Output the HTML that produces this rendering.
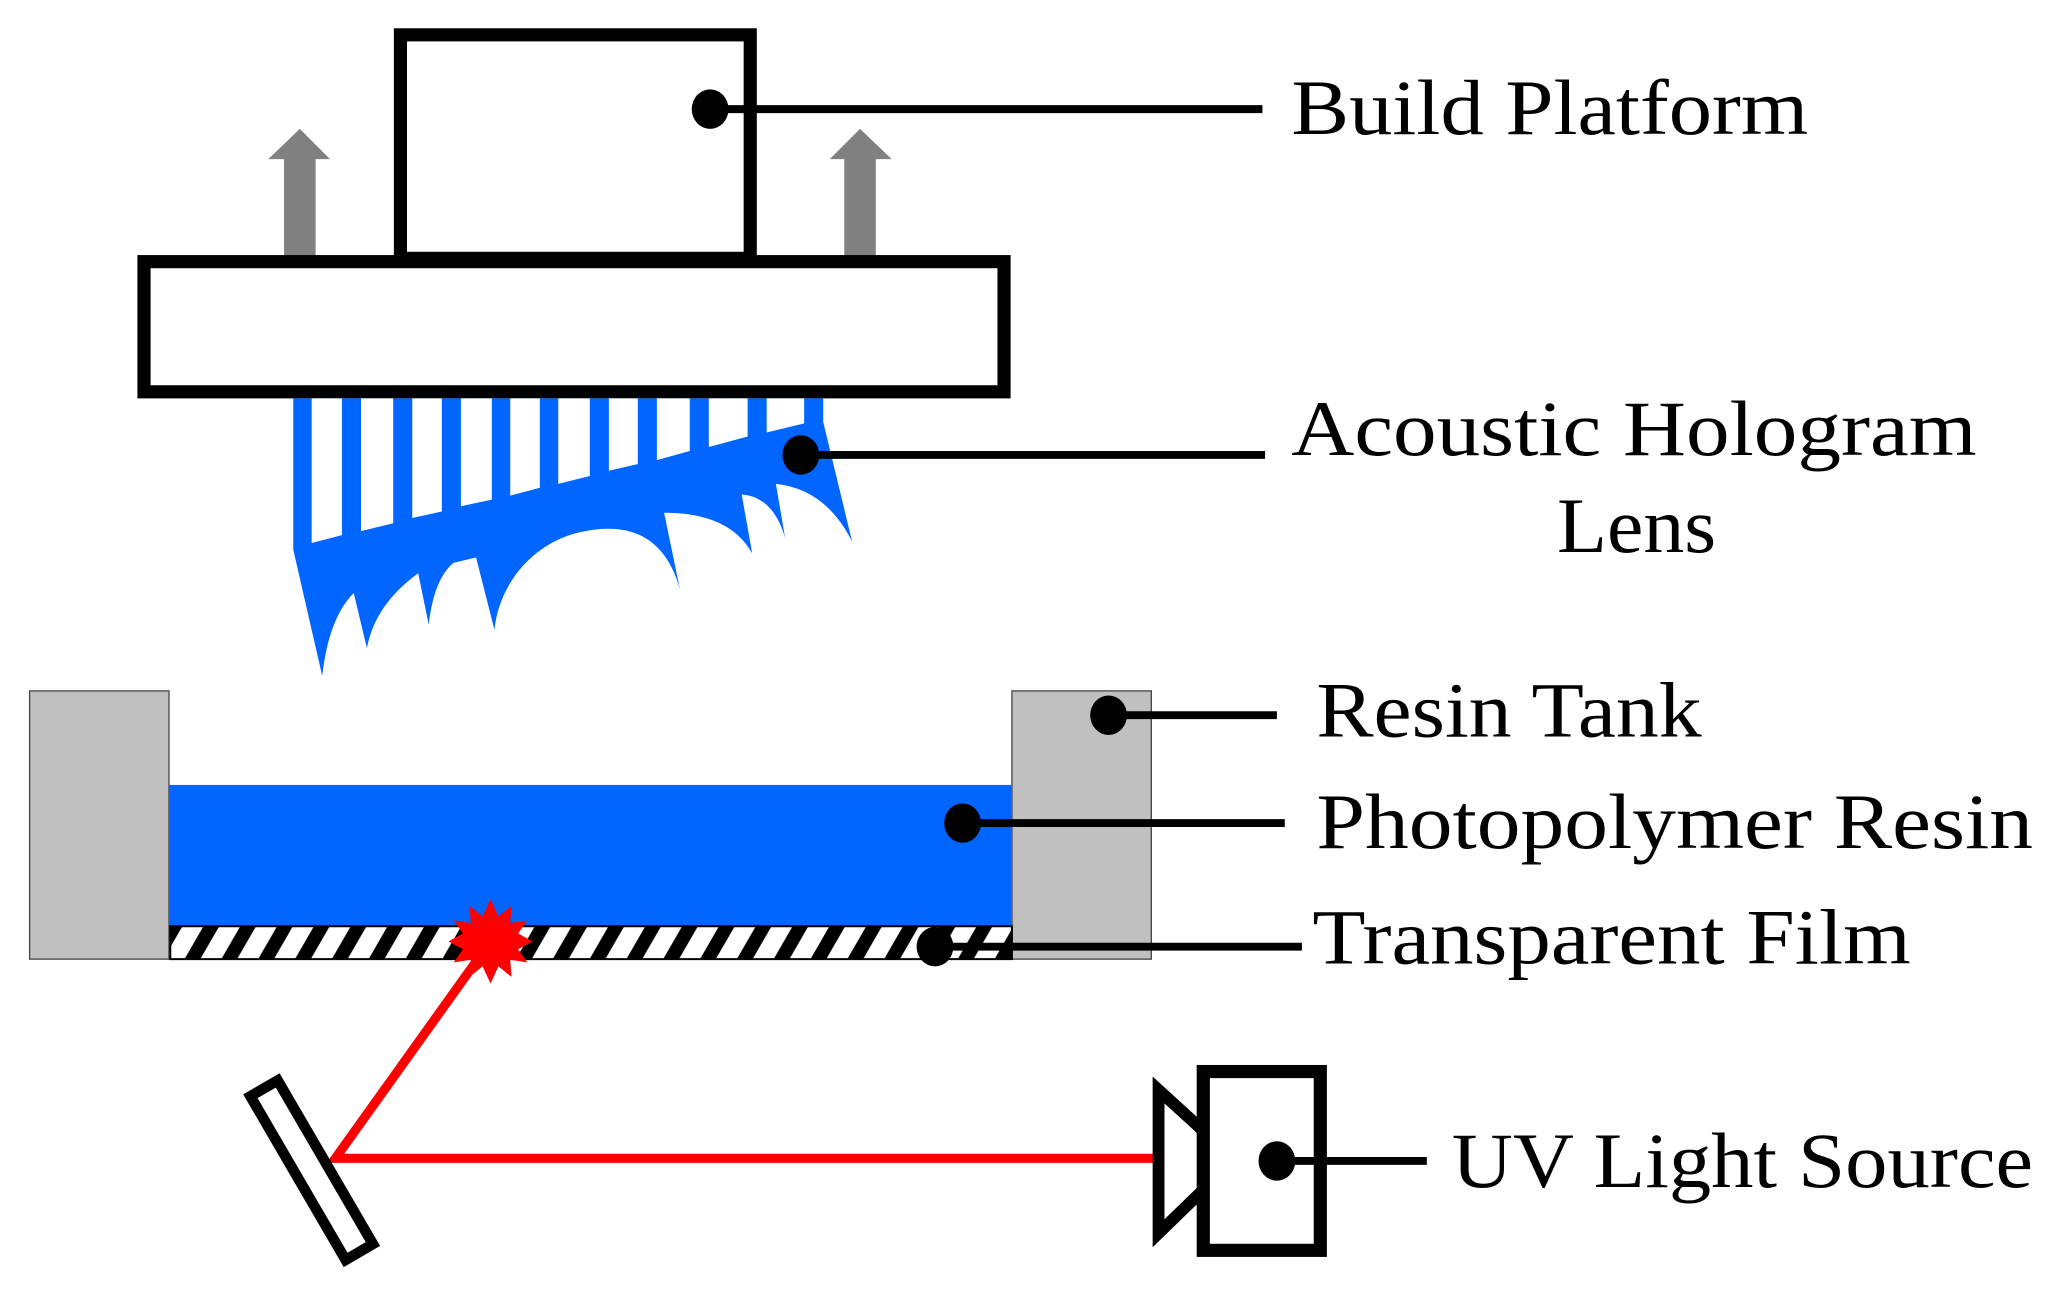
<!DOCTYPE html>
<html><head><meta charset="utf-8"><style>
html,body{margin:0;padding:0;background:#fff;}
svg{display:block;}
text{font-family:"Liberation Serif",serif;fill:#000;}
</style></head><body>
<svg width="2062" height="1299" viewBox="0 0 1568 988" preserveAspectRatio="none" xmlns="http://www.w3.org/2000/svg">
<defs>
<pattern id="hatch" patternUnits="userSpaceOnUse" width="28" height="26" x="0" y="704">
<rect width="28" height="26" fill="#fff"/>
<polygon points="0,26 12,26 27,0 15,0" fill="#000"/>
<polygon points="28,26 40,26 55,0 43,0" fill="#000"/>
<polygon points="-28,26 -16,26 -1,0 -13,0" fill="#000"/>
</pattern>
</defs>
<!-- gray arrows -->
<rect x="216" y="120" width="24" height="75" fill="#808080"/>
<polygon points="204,121 228,98 251,121" fill="#808080"/>
<rect x="642" y="120" width="24" height="75" fill="#808080"/>
<polygon points="631,121 654,98 678,121" fill="#808080"/>
<!-- build platform -->
<rect x="304.5" y="26.5" width="266" height="170" fill="#fff" stroke="#000" stroke-width="10"/>
<rect x="109.5" y="199" width="654" height="99" fill="#fff" stroke="#000" stroke-width="10"/>
<!-- lens -->
<path d="M223,303 L626,303 L626,321 L648,412 Q628,372 590,368 L597,409 Q588,378 564,376 L572,421 Q555,390 505,390 L517,448 C505,405 475,398 445,404 C410,410 380,440 376,479 L362,424 L345,428 Q330,440 326,475 L318,436 Q285,460 279,493 L269,451 Q250,470 245,514 L223,418 Z" fill="#0066ff"/>
<g fill="#fff">
<polygon points="237,303 260,303 260,407 237,413"/>
<polygon points="274.5,303 299,303 299,398 274.5,404"/>
<polygon points="313.5,303 336,303 336,389 313.5,394"/>
<polygon points="350.5,303 374,303 374,380 350.5,385"/>
<polygon points="388,303 410.5,303 410.5,371 388,377"/>
<polygon points="424.5,303 448.5,303 448.5,362 424.5,368"/>
<polygon points="463,303 485,303 485,353 463,358"/>
<polygon points="499.5,303 524.5,303 524.5,343 499.5,350"/>
<polygon points="539,303 568.5,303 568.5,332 539,340"/>
<polygon points="583,303 611.5,303 611.5,322 583,329"/>
</g>
<!-- leader lines top -->
<line x1="540" y1="83" x2="960" y2="83" stroke="#000" stroke-width="6"/>
<ellipse cx="540" cy="83" rx="14" ry="15" fill="#000"/>
<line x1="609" y1="346" x2="962" y2="346" stroke="#000" stroke-width="6"/>
<ellipse cx="609" cy="346" rx="14" ry="15" fill="#000"/>
<!-- tank -->
<rect x="22.5" y="525.5" width="106" height="204" fill="#c0c0c0" stroke="#444" stroke-width="1"/>
<rect x="769.5" y="525.5" width="106" height="204" fill="#c0c0c0" stroke="#444" stroke-width="1"/>
<rect x="129" y="597" width="640" height="107" fill="#0066ff"/>
<rect x="129" y="704" width="640" height="26" fill="url(#hatch)"/>
<rect x="129.5" y="704.5" width="640" height="25" fill="none" stroke="#000" stroke-width="1.5"/>
<!-- red beam -->
<polyline points="373,716 255,881 879,881" fill="none" stroke="#ff0000" stroke-width="7"/>
<polygon fill="#ff0000" points="373,684 379,697 389,689 388,702 401,700 394,710 405,716 394,722 401,732 388,730 389,743 379,735 373,748 367,735 357,743 358,730 345,732 352,722 341,716 352,710 345,700 358,702 357,689 367,697"/>
<!-- mirror -->
<g transform="translate(237,890) rotate(59.8)">
<rect x="-72" y="-12" width="144" height="24" fill="#fff" stroke="#000" stroke-width="8"/>
</g>
<!-- UV source -->
<rect x="915" y="815" width="89" height="136" fill="#fff" stroke="#000" stroke-width="10"/>
<polyline points="915,860 881,829 881,938 915,905" fill="none" stroke="#000" stroke-width="9" stroke-linejoin="miter"/>
<line x1="971" y1="883" x2="1085" y2="883" stroke="#000" stroke-width="6"/>
<ellipse cx="971" cy="883" rx="14" ry="15" fill="#000"/>
<!-- tank leaders -->
<line x1="843" y1="544" x2="971" y2="544" stroke="#000" stroke-width="6"/>
<ellipse cx="843" cy="544" rx="14" ry="15" fill="#000"/>
<line x1="732" y1="626" x2="977" y2="626" stroke="#000" stroke-width="6"/>
<ellipse cx="732" cy="626" rx="14" ry="15" fill="#000"/>
<line x1="711" y1="720" x2="990" y2="720" stroke="#000" stroke-width="6"/>
<ellipse cx="711" cy="720" rx="14" ry="15" fill="#000"/>
<!-- labels -->
<text x="982" y="102" font-size="60" textLength="393" lengthAdjust="spacingAndGlyphs">Build Platform</text>
<text x="982" y="346" font-size="60" textLength="521" lengthAdjust="spacingAndGlyphs">Acoustic Hologram</text>
<text x="1184" y="420" font-size="60" textLength="121" lengthAdjust="spacingAndGlyphs">Lens</text>
<text x="1001" y="560" font-size="60" textLength="293" lengthAdjust="spacingAndGlyphs">Resin Tank</text>
<text x="1001" y="645" font-size="60" textLength="545" lengthAdjust="spacingAndGlyphs">Photopolymer Resin</text>
<text x="998" y="733" font-size="60" textLength="455" lengthAdjust="spacingAndGlyphs">Transparent Film</text>
<text x="1104" y="903" font-size="60" textLength="442" lengthAdjust="spacingAndGlyphs">UV Light Source</text>
</svg>
</body></html>
